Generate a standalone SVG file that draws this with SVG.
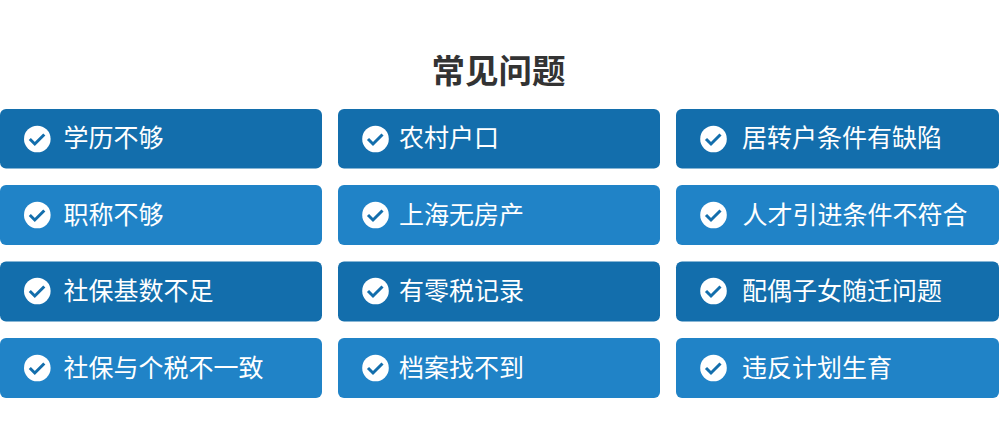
<svg xmlns="http://www.w3.org/2000/svg" width="999" height="448" viewBox="0 0 999 448">
<style>
text{font-family:"Noto Sans CJK SC","Noto Sans",sans-serif}
.t{font-size:33.500px;font-weight:700;fill:#333;text-anchor:middle}
.l{font-size:25px;fill:#fff}
.d{fill:#136eac}.m{fill:#2083c7}
</style>
<defs>
<g id="chk"><circle r="13.300" fill="#fff"/><path d="M-7.500 0L-2.500 5L7 -4.500" fill="none" stroke="#136eac" stroke-width="3"/></g>
</defs>
<rect width="999" height="448" fill="#fff"/>
<text class="t" x="498.500" y="83">常见问题</text>
<g id="n1"><rect class="d" x="0" y="109" width="322" height="59.500" rx="6"/><use href="#chk" x="37.300" y="139"/><text class="l" x="63.500" y="147">学历不够</text></g>
<g id="n2"><rect class="d" x="338" y="109" width="322" height="59.500" rx="6"/><use href="#chk" x="375.500" y="139"/><text class="l" x="399" y="147">农村户口</text></g>
<g id="n3"><rect class="d" x="676" y="109" width="323" height="59.500" rx="6"/><use href="#chk" x="713.500" y="139"/><text class="l" x="742" y="147">居转户条件有缺陷</text></g>
<g id="n4"><rect class="m" x="0" y="185" width="322" height="60" rx="6"/><use href="#chk" x="37.300" y="215"/><text class="l" x="63.500" y="224">职称不够</text></g>
<g id="n5"><rect class="m" x="338" y="185" width="322" height="60" rx="6"/><use href="#chk" x="375.500" y="215"/><text class="l" x="399" y="224">上海无房产</text></g>
<g id="n6"><rect class="m" x="676" y="185" width="323" height="60" rx="6"/><use href="#chk" x="713.500" y="215"/><text class="l" x="742.500" y="224">人才引进条件不符合</text></g>
<g id="n7"><rect class="d" x="0" y="261.500" width="322" height="60" rx="6"/><use href="#chk" x="37.300" y="291"/><text class="l" x="63.500" y="300">社保基数不足</text></g>
<g id="n8"><rect class="d" x="338" y="261.500" width="322" height="60" rx="6"/><use href="#chk" x="375.500" y="291"/><text class="l" x="399" y="300">有零税记录</text></g>
<g id="n9"><rect class="d" x="676" y="261.500" width="323" height="60" rx="6"/><use href="#chk" x="713.500" y="291"/><text class="l" x="742" y="300">配偶子女随迁问题</text></g>
<g id="n10"><rect class="m" x="0" y="338" width="322" height="60" rx="6"/><use href="#chk" x="37.300" y="368"/><text class="l" x="63.500" y="377">社保与个税不一致</text></g>
<g id="n11"><rect class="m" x="338" y="338" width="322" height="60" rx="6"/><use href="#chk" x="375.500" y="368"/><text class="l" x="399" y="377">档案找不到</text></g>
<g id="n12"><rect class="m" x="676" y="338" width="323" height="60" rx="6"/><use href="#chk" x="713.500" y="368"/><text class="l" x="742" y="377">违反计划生育</text></g>
<g id="connectors"></g>
</svg>
